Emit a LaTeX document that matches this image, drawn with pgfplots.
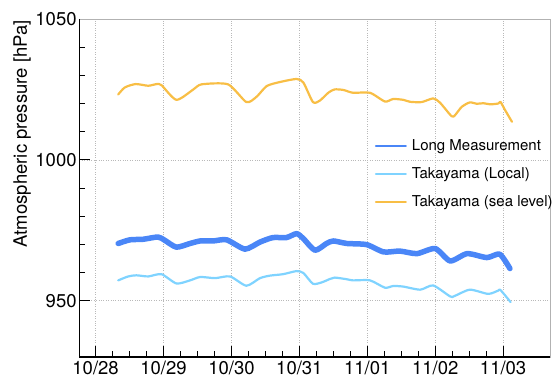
\documentclass[border=0pt]{standalone}
\usepackage{fontspec}
\setmainfont{TeX Gyre Heros}
\usepackage{pgfplots}
\pgfplotsset{compat=1.18}
\definecolor{longblue}{HTML}{4A86F7}
\definecolor{localblue}{HTML}{7FD3FF}
\definecolor{seaorange}{HTML}{F8BE45}

% days since 10/28 00:00, pressure in hPa
\pgfplotstableread{
x y
0.333 970.3
0.505 971.6
0.70 971.8
0.92 972.6
1.02 971.4
1.19 969.0
1.39 970.3
1.54 971.2
1.73 971.2
1.93 971.6
2.20 968.3
2.42 970.8
2.61 972.4
2.81 972.4
2.96 973.8
3.06 972.0
3.23 967.9
3.40 970.3
3.50 971.2
3.70 970.3
3.99 969.9
4.24 967.3
4.48 967.6
4.73 966.7
5.00 968.5
5.22 964.1
5.47 966.7
5.76 965.3
5.95 966.5
6.10 961.4
}\longmeas
\pgfplotstableread{
x y
0.333 957.2
0.48 958.6
0.60 959.0
0.775 958.6
0.97 959.4
1.19 956.1
1.39 957.2
1.54 958.4
1.76 958.0
1.98 958.6
2.22 955.3
2.42 958.0
2.57 958.9
2.76 959.4
2.96 960.5
3.06 959.8
3.20 956.0
3.33 956.5
3.45 957.7
3.52 958.2
3.70 957.6
3.79 957.2
4.04 957.2
4.26 954.6
4.38 955.2
4.53 955.0
4.78 953.9
4.97 955.4
5.22 951.5
5.28 951.6
5.51 953.9
5.78 952.4
5.93 953.6
5.96 953.8
6.11 949.5
}\takalocal
\pgfplotstableread{
x y
0.333 1023.2
0.43 1025.7
0.59 1026.9
0.775 1026.3
0.90 1026.9
0.97 1026.5
1.19 1021.3
1.44 1025.0
1.56 1026.8
1.95 1026.8
2.22 1020.5
2.37 1022.4
2.52 1026.2
2.71 1027.6
2.96 1028.7
3.06 1027.4
3.20 1020.5
3.30 1021.0
3.43 1023.9
3.52 1025.0
3.65 1024.8
3.79 1023.8
4.04 1023.8
4.26 1020.7
4.38 1021.6
4.53 1021.3
4.63 1020.6
4.80 1020.5
4.97 1021.8
5.07 1020.3
5.24 1015.5
5.29 1015.8
5.39 1018.8
5.51 1020.4
5.61 1019.9
5.71 1020.1
5.81 1019.7
5.93 1020.0
5.96 1020.6
6.03 1017.6
6.13 1013.5
}\takasea

\begin{document}
\begin{tikzpicture}
\begin{axis}[
  scale only axis, width=470.7pt, height=338pt,
  xmin=-0.24, xmax=6.69, ymin=930, ymax=1050,
  clip=false,
  axis line style={gray!60, line width=0.5pt},
  tick align=inside, tick pos=left,
  xtick={0,...,6},
  xticklabels={10/28,10/29,10/30,10/31,11/01,11/02,11/03},
  minor x tick num=3,
  ytick={950,1000,1050}, yticklabels={950,1000,1050},
  minor y tick num=4,
  major tick length=11pt, minor tick length=5.5pt,
  major tick style={black, line width=0.9pt},
  minor tick style={black, line width=0.7pt},
  grid=major,
  major grid style={dotted, gray!55, line width=0.6pt},
  ticklabel style={font=\fontsize{18.5}{20}\selectfont},
  xticklabel style={inner sep=0pt, yshift=-4pt},
  yticklabel style={inner sep=0pt, xshift=-2.5pt},
  legend style={draw=none, fill=none, at={(rel axis cs:0.6276,0.6497)},
    anchor=north west, inner sep=0pt, row sep=11.5pt,
    font=\fontsize{15}{17}\selectfont,
    nodes={inner sep=2pt},
    /tikz/every odd column/.append style={column sep=3pt}},
  legend cell align=left,
  legend image code/.code={\draw[#1, line width=2pt] (0pt,0pt) -- (30pt,0pt);},
  every axis plot/.append style={line join=round, line cap=round},
]
\addplot[longblue, line width=5.5pt, smooth, tension=0.4] table {\longmeas};
\addlegendentry{Long Measurement}
\addplot[localblue, line width=2.2pt, smooth, tension=0.4] table {\takalocal};
\addlegendentry{Takayama (Local)}
\addplot[seaorange, line width=2.2pt, smooth, tension=0.4] table {\takasea};
\addlegendentry{Takayama (sea level)}
\draw[black, line width=1.3pt] (rel axis cs:0,1) -- (rel axis cs:0,0) -- (rel axis cs:1,0);
\end{axis}
\node[rotate=90, anchor=north east, inner sep=0pt, font=\fontsize{18.5}{20}\selectfont]
  at ([xshift=-66pt, yshift=-1pt]current axis.north west) {Atmospheric pressure [hPa]};
\pgfresetboundingbox
\path ([xshift=-79.3pt, yshift=-22pt]current axis.south west) rectangle ([xshift=2pt, yshift=19pt]current axis.north east);
\end{tikzpicture}
\end{document}
